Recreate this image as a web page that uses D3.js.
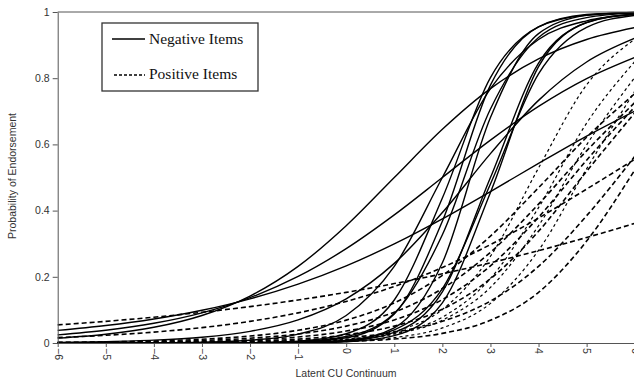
<!DOCTYPE html>
<html>
<head>
<meta charset="utf-8">
<script src="https://cdn.jsdelivr.net/npm/d3@7"></script>
<style>
  body { margin: 0; background: #fff; }
  svg { display: block; }
  .axis text { font-family: "Liberation Sans", Arial, sans-serif; font-size: 10.5px; fill: #333; }
  .axis path, .axis line { stroke: #555; }
</style>
</head>
<body>
<div id="chart"></div>
<script>
var thetaPoints = [-6, -5, -4, -3, -2, -1, 0, 1, 2, 3, 4, 5, 6];
var yTicks = [0, 0.2, 0.4, 0.6, 0.8, 1];
var yTickLabels = ["0", "0.2", "0.4", "0.6", "0.8", "1"];
var legendLabels = ["Negative Items", "Positive Items"];

// negative items (solid), probability at each theta point
var negativeItems = [
    [.0148, .0266, .0474, .0832, .1419, .2315, .3543, .5, .6457, .7685, .8581, .9168, .9526],
    [.0246, .0384, .0595, .0911, .137, .201, .285, .387, .5, .613, .715, .799, .863],
    [.038, .0527, .0724, .0988, .1335, .178, .233, .2994, .375, .4576, .5424, .625, .7006],
    [.002, .0042, .0086, .0175, .0352, .0698, .1335, .2405, .394, .572, .733, .849, .9206],
    [0, 0, 0, .0002, .0011, .0055, .0279, .130, .438, .802, .955, .991, .9983],
    [0, 0, 0, .0001, .0004, .0026, .0157, .0879, .368, .779, .9553, .9923, .9987],
    [0, 0, 0, .0002, .0008, .004, .0195, .0895, .327, .707, .923, .983, .9966],
    [0, 0, 0, 0, .0002, .0011, .0071, .0457, .2423, .681, .9347, .9897, .9984],
    [.0001, .0002, .0007, .0025, .0082, .0266, .0832, .2315, .5, .7685, .9168, .9734, .9918],
    [0, 0, 0, 0, .0002, .0011, .0061, .0323, .1545, .5, .8455, .9677, .9939],
    [0, 0, 0, 0, .0001, .0006, .0038, .0223, .1213, .455, .835, .9683, .9946],
    [0, 0, 0, .0001, .0004, .0019, .0087, .0399, .164, .4806, .813, .9535, .9897]
];

// positive items (dashed)
var positiveItems = [
    [.0547, .0654, .078, .0928, .110, .130, .153, .1795, .209, .2423, .279, .3187, .3613],
    [.0163, .0232, .0329, .0465, .0654, .0911, .1256, .1708, .228, .2973, .3775, .465, .5548],
    [.0018, .0033, .0062, .0114, .021, .0384, .0691, .1213, .2042, .323, .469, .6215, .7532],
    [.0011, .0021, .004, .0076, .0144, .0272, .051, .0932, .1645, .274, .4195, .5805, .7261],
    [.0006, .0011, .0023, .0045, .0091, .0182, .036, .0698, .1312, .233, .38, .5523, .713],
    [.0003, .0006, .0013, .0027, .0056, .0118, .0247, .051, .102, .194, .3374, .5187, .6953],
    [.0002, .0004, .0009, .0018, .0038, .0078, .016, .0326, .0654, .1267, .2315, .3846, .5634],
    [.0001, .0001, .0001, .0003, .0008, .002, .0049, .012, .029, .0685, .153, .3079, .5225],
    [0, 0, 0, .0004, .0011, .0036, .0112, .0344, .1011, .2621, .5287, .78, .918],
    [0, 0, .0001, .0004, .0013, .0036, .0103, .0288, .0782, .195, .409, .6643, .8498],
    [0, 0, .0002, .0005, .0014, .0037, .01, .0266, .0691, .168, .3543, .5987, .802],
    [0, 0, 0, .0002, .0007, .002, .0058, .0164, .0455, .1197, .2799, .5262, .7604]
];

var width = 634, height = 383;

var svg = d3.select("#chart").append("svg")
    .attr("width", width)
    .attr("height", height);

var x = d3.scaleLinear().domain([-6, 6]).range([57.7, 634.7]);
var y = d3.scaleLinear().domain([0, 1]).range([343, 12]);

// curves
var line = d3.line()
    .x(function (d, i) { return x(thetaPoints[i]); })
    .y(function (d) { return y(d); })
    .curve(d3.curveMonotoneX);

svg.append("g").selectAll("path").data(positiveItems).enter().append("path")
    .attr("d", line)
    .attr("fill", "none")
    .attr("stroke", "#000")
    .attr("stroke-width", function (d, i) { return i >= 8 ? 1.2 : 1.6; })
    .attr("stroke-dasharray", function (d, i) { return i >= 8 ? "3,3" : "5,3"; });

svg.append("g").selectAll("path").data(negativeItems).enter().append("path")
    .attr("d", line)
    .attr("fill", "none")
    .attr("stroke", "#000")
    .attr("stroke-width", 1.4);

// axes
svg.append("g")
    .attr("class", "axis")
    .attr("transform", "translate(" + x(-6) + ",0)")
    .call(d3.axisLeft(y).tickValues(yTicks)
        .tickFormat(function (d, i) { return yTickLabels[i]; })
        .tickSize(5).tickSizeOuter(0));

svg.append("g")
    .attr("class", "axis")
    .attr("transform", "translate(0," + y(0) + ")")
    .call(d3.axisBottom(x).tickValues(thetaPoints).tickFormat(d3.format("d"))
        .tickSize(4).tickSizeOuter(0))
    .selectAll("text")
    .attr("transform", "rotate(90)")
    .attr("x", 5)
    .attr("y", 0)
    .attr("dy", "0.35em")
    .style("text-anchor", "start");

// top frame line
svg.append("line")
    .attr("x1", x(-6)).attr("x2", width)
    .attr("y1", y(1)).attr("y2", y(1))
    .attr("stroke", "#555");

// axis titles
svg.append("text")
    .attr("x", 346).attr("y", 377)
    .attr("text-anchor", "middle")
    .style("font-family", "Liberation Sans, Arial, sans-serif")
    .style("font-size", "10.5px")
    .style("fill", "#333")
    .text("Latent CU Continuum");

svg.append("text")
    .attr("transform", "translate(16,176) rotate(-90)")
    .attr("text-anchor", "middle")
    .style("font-family", "Liberation Sans, Arial, sans-serif")
    .style("font-size", "10.5px")
    .style("fill", "#333")
    .text("Probability of Endorsement");

// legend
var legend = svg.append("g");
legend.append("rect")
    .attr("x", 102).attr("y", 23).attr("width", 156).attr("height", 68)
    .attr("fill", "#fff").attr("stroke", "#333").attr("stroke-width", 1.3);

legend.append("line")
    .attr("x1", 112).attr("x2", 145).attr("y1", 39).attr("y2", 39)
    .attr("stroke", "#000").attr("stroke-width", 1.3);
legend.append("line")
    .attr("x1", 114).attr("x2", 145).attr("y1", 75).attr("y2", 75)
    .attr("stroke", "#000").attr("stroke-width", 1.3)
    .attr("stroke-dasharray", "3,2");

legend.selectAll("text.lg").data(legendLabels).enter().append("text")
    .attr("class", "lg")
    .attr("x", 149)
    .attr("y", function (d, i) { return 44 + i * 35; })
    .style("font-family", "Liberation Serif, Times New Roman, serif")
    .style("font-size", "15.5px")
    .style("fill", "#111")
    .text(function (d) { return d; });
</script>
</body>
</html>
